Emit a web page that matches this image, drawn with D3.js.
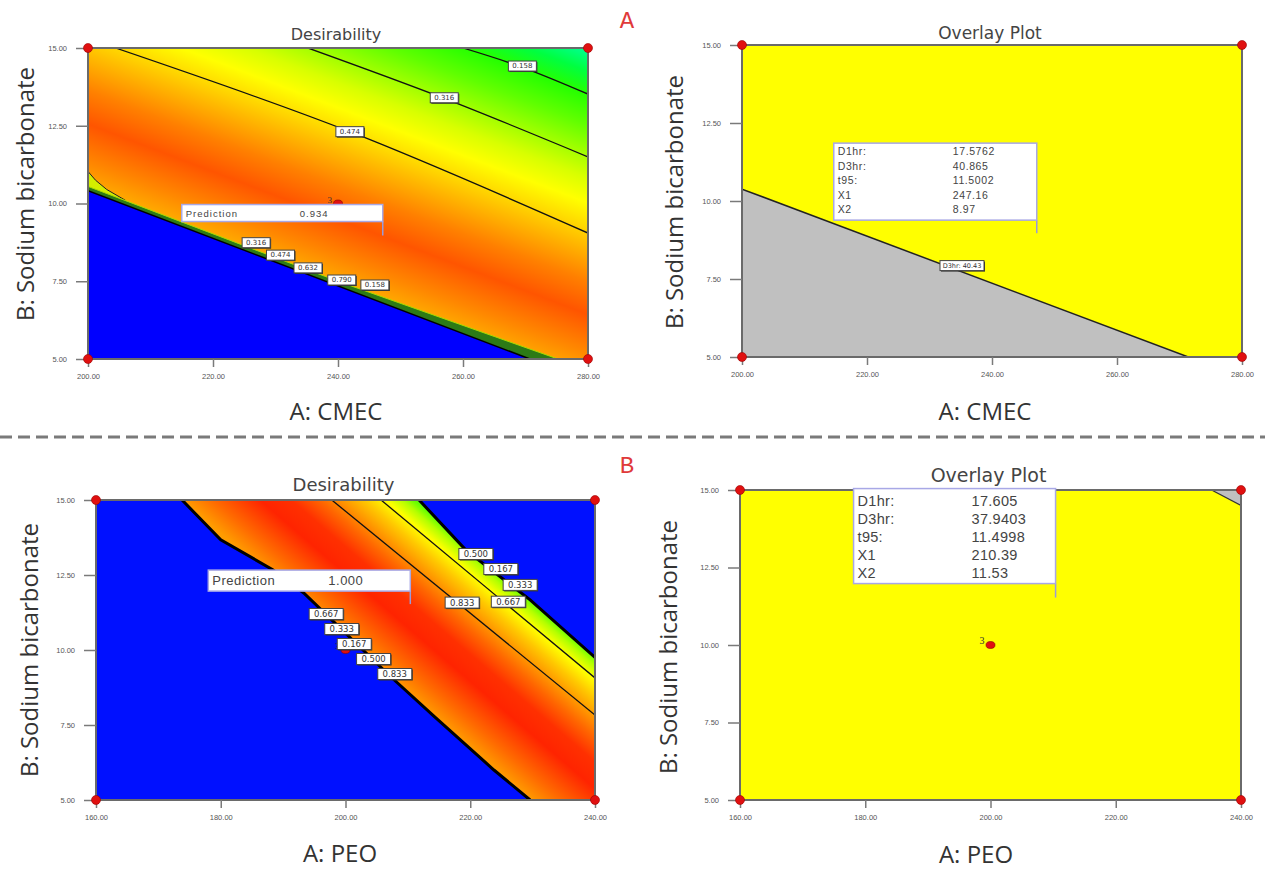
<!DOCTYPE html>
<html><head><meta charset="utf-8">
<script src="https://cdn.jsdelivr.net/npm/d3@7/dist/d3.min.js"></script>
<style>body{margin:0;background:#fff}</style>
</head><body>
<svg id="c" width="1265" height="869"></svg>
<script>
// ---------------- DATA ----------------
const cmecTicks = [200, 220, 240, 260, 280];
const peoTicks = [160, 180, 200, 220, 240];
const sodiumTicks = [5, 7.5, 10, 12.5, 15];
const cmecDomain = [200, 280];
const peoDomain = [160, 240];
const sodiumDomain = [5, 15];

const designCornersA = [[200, 5], [200, 15], [280, 5], [280, 15]];
const designCornersB = [[160, 5], [160, 15], [240, 5], [240, 15]];
const centerPointA = [240, 10];
const centerPointB = [200, 10];
const centerReplicates = "3";

const optimumA = [247.16, 8.97];
const optimumB = [210.39, 11.53];
const predictionA = "0.934";
const predictionB = "1.000";

// Panel A desirability contours
const contourLevelsA = ["0.158", "0.316", "0.474"];
const contourLinesA = [
  [[260, 15], [269.5, 14.38], [280, 13.52]],
  [[235.2, 15], [257, 13.38], [280, 11.5]],
  [[204.4, 15], [242, 12.3], [280, 9.05]]
];
const contourLabelPosA = [[269.5, 14.42], [257.0, 13.40], [241.9, 12.31]];
const cliffLabelsA = ["0.316", "0.474", "0.632", "0.790", "0.158"];
const cliffLabelPosA = [[226.9, 8.74], [230.8, 8.34], [235.2, 7.93], [240.6, 7.54], [245.9, 7.38]];
const zeroRegionA = [[200, 10.41], [270.7, 5], [200, 5]];
const cliffTopA = [[200, 10.55], [240, 7.5], [275.2, 5]];
const wispA = [[200, 11.03], [201.2, 10.75], [203, 10.45], [206, 10.1]];

// Panel B desirability
const bandLowerB = [[173.8, 15], [180.0, 13.67], [188.4, 12.67], [193.3, 11.9], [207.3, 9.1], [214.3, 7.77], [223.8, 6.0], [229.6, 5]];
const bandUpperB = [[211.8, 15], [219.3, 13.33], [229.6, 11.67], [240, 9.75]];
const contourLevelsB = ["0.833", "0.667"];
const contourLinesB = [
  [[197.8, 15], [240, 7.83]],
  [[205.7, 15], [240, 9.07]]
];
const upperLabelsB = ["0.500", "0.167", "0.333", "0.667", "0.833"];
const upperLabelPosB = [[220.9, 13.2], [224.9, 12.7], [228.0, 12.17], [226.1, 11.61], [218.7, 11.58]];
const cliffLabelsB = ["0.667", "0.333", "0.167", "0.500", "0.833"];
const cliffLabelPosB = [[196.9, 11.2], [199.4, 10.7], [201.4, 10.2], [204.5, 9.7], [207.9, 9.2]];

// Overlay plots
const greyRegionA = [[200, 10.38], [271.4, 5], [200, 5]];
const greyBoundaryLabelA = "D3hr: 40.43";
const greyBoundaryLabelPosA = [235.2, 7.93];
const greyRegionB = [[235.3, 15], [240, 15], [240, 14.5]];
const overlayNames = ["D1hr:", "D3hr:", "t95:", "X1", "X2"];
const overlayValuesA = ["17.5762", "40.865", "11.5002", "247.16", "8.97"];
const overlayValuesB = ["17.605", "37.9403", "11.4998", "210.39", "11.53"];

// ---------------- DRAWING ----------------
const svg = d3.select("#c");
svg.append("rect").attr("width", 1265).attr("height", 869).attr("fill", "#fff");
const defs = svg.append("defs");

function makePanel(id, xDomain, box) {
  const x = d3.scaleLinear().domain(xDomain).range([box.x0, box.x1]);
  const y = d3.scaleLinear().domain(sodiumDomain).range([box.y1, box.y0]);
  defs.append("clipPath").attr("id", "clip" + id).append("rect")
    .attr("x", box.x0).attr("y", box.y0).attr("width", box.x1 - box.x0).attr("height", box.y1 - box.y0);
  const g = svg.append("g");
  const plot = g.append("g").attr("clip-path", `url(#clip${id})`);
  return { x, y, g, plot, box };
}
const line = (P, curve) => d3.line().x(d => P.x(d[0])).y(d => P.y(d[1])).curve(curve || d3.curveLinear);

function gradient(id, p0, n, L, stops) {
  const gr = defs.append("linearGradient").attr("id", id).attr("gradientUnits", "userSpaceOnUse")
    .attr("x1", p0[0]).attr("y1", p0[1]).attr("x2", p0[0] + n[0] * L).attr("y2", p0[1] + n[1] * L);
  stops.forEach(s => gr.append("stop").attr("offset", s[0]).attr("stop-color", s[1]));
}

function axes(P, xTicks, xTitle, title, titleSize, titleY, xTitlePos, yTitlePos) {
  const { x, y, g, box } = P;
  g.append("rect").attr("x", box.x0).attr("y", box.y0).attr("width", box.x1 - box.x0).attr("height", box.y1 - box.y0)
    .attr("fill", "none").attr("stroke", "#6a6a6a").attr("stroke-width", 2);
  const gx = g.append("g").attr("transform", `translate(0,${box.y1})`)
    .call(d3.axisBottom(x).tickValues(xTicks).tickFormat(d3.format(".2f")).tickSize(8).tickPadding(7));
  gx.select(".domain").remove();
  gx.selectAll("line").attr("stroke", "#7a7a7a").attr("stroke-width", 1.5);
  gx.selectAll("text").attr("font-family", "Liberation Sans, Arial, sans-serif").attr("font-size", 7.5).attr("fill", "#555");
  const gy = g.append("g").attr("transform", `translate(${box.x0},0)`)
    .call(d3.axisLeft(y).tickValues(sodiumTicks).tickFormat(d3.format(".2f")).tickSize(12).tickPadding(9));
  gy.select(".domain").remove();
  gy.selectAll("line").attr("stroke", "#7a7a7a").attr("stroke-width", 1.5);
  gy.selectAll("text").attr("font-family", "Liberation Sans, Arial, sans-serif").attr("font-size", 7.5).attr("fill", "#555");
  g.append("text").attr("x", (box.x0 + box.x1) / 2 - 2).attr("y", titleY).attr("text-anchor", "middle")
    .attr("font-family", "DejaVu Sans, sans-serif").attr("font-size", titleSize).attr("fill", "#444").text(title);
  g.append("text").attr("x", xTitlePos[0]).attr("y", xTitlePos[1]).attr("text-anchor", "middle")
    .attr("font-family", "Open Sans, sans-serif").attr("font-size", 24).attr("fill", "#333").text(xTitle);
  g.append("text").attr("transform", `translate(${yTitlePos[0]},${yTitlePos[1]}) rotate(-90)`)
    .attr("text-anchor", "middle").attr("dominant-baseline", "central")
    .attr("font-family", "Open Sans, sans-serif").attr("font-size", 24).attr("fill", "#333").text("B: Sodium bicarbonate");
}

function corners(P, pts) {
  P.g.selectAll(null).data(pts).join("circle").attr("cx", d => P.x(d[0])).attr("cy", d => P.y(d[1]))
    .attr("r", 4.5).attr("fill", "#e01010").attr("stroke", "#900").attr("stroke-width", 0.6);
}
function centerPt(P, pt, fs) {
  P.g.append("ellipse").attr("cx", P.x(pt[0])).attr("cy", P.y(pt[1])).attr("rx", 4.5).attr("ry", 3.5)
    .attr("fill", "#e01010").attr("stroke", "#800").attr("stroke-width", 0.6);
  P.g.append("text").attr("x", P.x(pt[0]) - 6).attr("y", P.y(pt[1]) - 1).attr("text-anchor", "end")
    .attr("font-family", "Liberation Serif, serif").attr("font-size", fs).attr("fill", "#333").text(centerReplicates);
}
function tag(P, txt, pos, w, h, fs) {
  const cx = P.x(pos[0]), cy = P.y(pos[1]);
  P.g.append("rect").attr("x", cx - w / 2 + 1).attr("y", cy - h / 2 + 1).attr("width", w).attr("height", h).attr("fill", "#333");
  P.g.append("rect").attr("x", cx - w / 2).attr("y", cy - h / 2).attr("width", w).attr("height", h)
    .attr("fill", "#fff").attr("stroke", "#444").attr("stroke-width", 1);
  P.g.append("text").attr("x", cx).attr("y", cy).attr("text-anchor", "middle").attr("dominant-baseline", "central")
    .attr("font-family", "DejaVu Sans, sans-serif").attr("font-size", fs).attr("fill", "#333").text(txt);
}
function infoBox(P, opt, w, h, gap, names, values, fs, rowStart, rowStep, valOff, ls) {
  const tx = P.x(opt[0]), ty = P.y(opt[1]);
  const bx = tx - w, by = ty - gap - h;
  P.g.append("line").attr("x1", tx).attr("x2", tx).attr("y1", by + h).attr("y2", ty).attr("stroke", "#9a9ad8").attr("stroke-width", 1.5);
  P.g.append("rect").attr("x", bx).attr("y", by).attr("width", w).attr("height", h)
    .attr("fill", "#fff").attr("stroke", "#a8a8e6").attr("stroke-width", 1.5);
  names.forEach((n, i) => {
    const yy = by + rowStart + i * rowStep;
    P.g.append("text").attr("x", bx + 4).attr("y", yy).attr("dominant-baseline", "central")
      .attr("font-family", "Liberation Sans, Arial, sans-serif").attr("font-size", fs).attr("letter-spacing", ls)
      .attr("fill", "#444").text(n);
    P.g.append("text").attr("x", bx + valOff).attr("y", yy).attr("dominant-baseline", "central")
      .attr("font-family", "Liberation Sans, Arial, sans-serif").attr("font-size", fs).attr("letter-spacing", ls)
      .attr("fill", "#444").text(values[i]);
  });
}

// ---- Panel A-left: Desirability (CMEC) ----
const PA = makePanel("A1", cmecDomain, { x0: 88, x1: 588, y0: 48, y1: 359 });
{
  const p0 = [PA.x(zeroRegionA[0][0]), PA.y(zeroRegionA[0][1])];
  const p1 = [PA.x(zeroRegionA[1][0]), PA.y(zeroRegionA[1][1])];
  const dl = Math.hypot(p1[0] - p0[0], p1[1] - p0[1]);
  const d = [(p1[0] - p0[0]) / dl, (p1[1] - p0[1]) / dl];
  const n = [d[1], -d[0]];
  const corner = [PA.x(280), PA.y(15)];
  const L = (corner[0] - p0[0]) * n[0] + (corner[1] - p0[1]) * n[1];
  gradient("gA", p0, n, L, [
    [0, "#ffb000"], [0.083, "#ff8800"], [0.2, "#ff5500"], [0.3, "#ff8000"], [0.41, "#ffbc00"],
    [0.46, "#ffd800"], [0.535, "#ffff00"], [0.61, "#d8ff00"], [0.68, "#a4ff00"], [0.77, "#60ff00"],
    [0.86, "#26ff00"], [0.93, "#00ff40"], [1, "#00ff96"]]);
  PA.plot.append("rect").attr("x", 88).attr("y", 48).attr("width", 500).attr("height", 311).attr("fill", "url(#gA)");
  PA.plot.append("path").attr("d", line(PA)(wispA.concat([[200, 10.55]]))).attr("fill", "#d4ee00");
  PA.plot.append("path").attr("d", line(PA)(wispA)).attr("fill", "none").attr("stroke", "#222").attr("stroke-width", 1);
  PA.plot.append("path").attr("d", line(PA)(cliffTopA.concat([[270.7, 5], [200, 10.41]]))).attr("fill", "#2c7a16");
  PA.plot.append("path").attr("d", line(PA)(cliffTopA)).attr("fill", "none").attr("stroke", "#a8dc00").attr("stroke-width", 1);
  PA.plot.append("path").attr("d", line(PA)(zeroRegionA)).attr("fill", "#0000ff").attr("stroke", "#000").attr("stroke-width", 1.5);
  contourLinesA.forEach(c => PA.plot.append("path").attr("d", line(PA, d3.curveMonotoneX)(c))
    .attr("fill", "none").attr("stroke", "#111").attr("stroke-width", 1.3));
}
axes(PA, cmecTicks, "A: CMEC", "Desirability", 16, 40, [336, 420], [24, 194]);
contourLevelsA.forEach((t, i) => tag(PA, t, contourLabelPosA[i], 28, 10, 7));
cliffLabelsA.forEach((t, i) => tag(PA, t, cliffLabelPosA[i], 28, 10, 7));
corners(PA, designCornersA);
centerPt(PA, centerPointA, 9);
infoBox(PA, optimumA, 201, 17, 14, ["Prediction"], [predictionA], 9.5, 8.5, 0, 118, 1);

// ---- Panel A-right: Overlay (CMEC) ----
const PA2 = makePanel("A2", cmecDomain, { x0: 742, x1: 1242, y0: 45, y1: 357 });
PA2.plot.append("rect").attr("x", 742).attr("y", 45).attr("width", 500).attr("height", 312).attr("fill", "#ffff00");
PA2.plot.append("path").attr("d", line(PA2)(greyRegionA)).attr("fill", "#c0c0c0");
PA2.plot.append("path").attr("d", line(PA2)(greyRegionA.slice(0, 2))).attr("fill", "none").attr("stroke", "#222").attr("stroke-width", 1.5);
axes(PA2, cmecTicks, "A: CMEC", "Overlay Plot", 17, 39, [985, 420], [673, 202]);
tag(PA2, greyBoundaryLabelA, greyBoundaryLabelPosA, 44, 10, 6.5);
corners(PA2, designCornersA);
infoBox(PA2, optimumA, 203, 77, 13, overlayNames, overlayValuesA, 10.5, 8, 14.5, 119, 0.6);

// ---- Panel B-left: Desirability (PEO) ----
const PB = makePanel("B1", peoDomain, { x0: 96, x1: 595, y0: 500, y1: 800 });
{
  const p0 = [PB.x(bandLowerB[0][0]), PB.y(bandLowerB[0][1])];
  const last = bandLowerB[bandLowerB.length - 1];
  const p1 = [PB.x(last[0]), PB.y(last[1])];
  const dl = Math.hypot(p1[0] - p0[0], p1[1] - p0[1]);
  const d = [(p1[0] - p0[0]) / dl, (p1[1] - p0[1]) / dl];
  const n = [d[1], -d[0]];
  const q = [PB.x(bandUpperB[0][0]), PB.y(bandUpperB[0][1])];
  const L = (q[0] - p0[0]) * n[0] + (q[1] - p0[1]) * n[1];
  gradient("gB", p0, n, L, [
    [0, "#ff9c00"], [0.13, "#ff6a00"], [0.33, "#ff2400"], [0.46, "#ff3000"], [0.58, "#ff6600"],
    [0.67, "#ff9400"], [0.77, "#ffc800"], [0.86, "#ffff00"], [0.93, "#b4ff00"], [1, "#40ff00"]]);
  PB.plot.append("rect").attr("x", 96).attr("y", 500).attr("width", 499).attr("height", 300).attr("fill", "#0010ff");
  const band = bandLowerB.concat([[240, 5]], bandUpperB.slice().reverse());
  PB.plot.append("path").attr("d", line(PB)(band)).attr("fill", "url(#gB)");
  PB.plot.append("path").attr("d", line(PB)(bandLowerB)).attr("fill", "none").attr("stroke", "#000").attr("stroke-width", 3);
  PB.plot.append("path").attr("d", line(PB)(bandUpperB)).attr("fill", "none").attr("stroke", "#000").attr("stroke-width", 3);
  contourLinesB.forEach(c => PB.plot.append("path").attr("d", line(PB)(c))
    .attr("fill", "none").attr("stroke", "#111").attr("stroke-width", 1.3));
}
axes(PB, peoTicks, "A: PEO", "Desirability", 18, 491, [340, 862], [28, 650]);
corners(PB, designCornersB);
centerPt(PB, centerPointB, 9);
upperLabelsB.forEach((t, i) => tag(PB, t, upperLabelPosB[i], 34, 11, 8.5));
cliffLabelsB.forEach((t, i) => tag(PB, t, cliffLabelPosB[i], 34, 11, 8.5));
infoBox(PB, optimumB, 202, 21, 13, ["Prediction"], [predictionB], 13, 10.5, 0, 120, 0.5);

// ---- Panel B-right: Overlay (PEO) ----
const PB2 = makePanel("B2", peoDomain, { x0: 740, x1: 1241, y0: 490, y1: 800 });
PB2.plot.append("rect").attr("x", 740).attr("y", 490).attr("width", 501).attr("height", 310).attr("fill", "#ffff00");
PB2.plot.append("path").attr("d", line(PB2)(greyRegionB)).attr("fill", "#c0c0c0");
PB2.plot.append("path").attr("d", line(PB2)([greyRegionB[0], greyRegionB[2]])).attr("fill", "none").attr("stroke", "#333").attr("stroke-width", 1.2);
axes(PB2, peoTicks, "A: PEO", "Overlay Plot", 19, 482, [976, 863], [667, 647]);
corners(PB2, designCornersB);
centerPt(PB2, centerPointB, 10);
infoBox(PB2, optimumB, 202, 95, 14, overlayNames, overlayValuesB, 14.5, 12, 18, 118, 0.3);

// ---- separators and panel letters ----
svg.append("line").attr("x1", 0).attr("x2", 1265).attr("y1", 437).attr("y2", 437)
  .attr("stroke", "#7a7a7a").attr("stroke-width", 3).attr("stroke-dasharray", "12,6");
svg.append("text").attr("x", 627).attr("y", 28).attr("text-anchor", "middle")
  .attr("font-family", "Liberation Mono, monospace").attr("font-size", 24).attr("fill", "#e03a3a").text("A");
svg.append("text").attr("x", 627).attr("y", 473).attr("text-anchor", "middle")
  .attr("font-family", "Liberation Mono, monospace").attr("font-size", 24).attr("fill", "#e03a3a").text("B");
</script>
</body></html>
